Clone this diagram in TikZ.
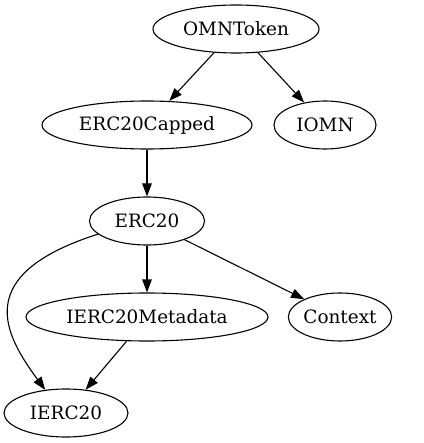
\documentclass[tikz,border=0pt]{standalone}
\usepackage{fontspec}
\setmainfont{DejaVu Serif}
\usetikzlibrary{shapes.geometric,arrows.meta}
\tikzset{
  cls/.style={draw, ellipse, line width=1.1pt, inner sep=0pt, minimum height=48pt, font=\fontsize{18.4}{20}\selectfont},
  dep/.style={draw, line width=1.1pt, -{Triangle[length=13pt,width=9.5pt]}}
}
\begin{document}
\begin{tikzpicture}[x=1pt,y=-1pt]
\useasboundingbox (0,0) rectangle (423,443);
\node[cls, minimum width=166pt] (omn) at (236,29) {OMNToken};
\node[cls, minimum width=210pt] (cap) at (147,125) {ERC20Capped};
\node[cls, minimum width=102pt] (iomn) at (325,125) {IOMN};
\node[cls, minimum width=115pt] (erc) at (147,221) {ERC20};
\node[cls, minimum width=242pt] (meta) at (147,317) {IERC20Metadata};
\node[cls, minimum width=98pt] (ctx) at (340,317) {Context};
\node[cls, minimum width=124pt] (ierc) at (66,413) {IERC20};
\draw[dep] (omn) -- (cap);
\draw[dep] (omn) -- (iomn);
\draw[dep] (cap) -- (erc);
\draw[dep] (erc) -- (meta);
\draw[dep] (erc) -- (ctx);
\draw[dep] (meta) -- (ierc);
\draw[dep] (erc.195) .. controls (-30,275) and (5,335) .. (ierc.132);
\end{tikzpicture}
\end{document}
